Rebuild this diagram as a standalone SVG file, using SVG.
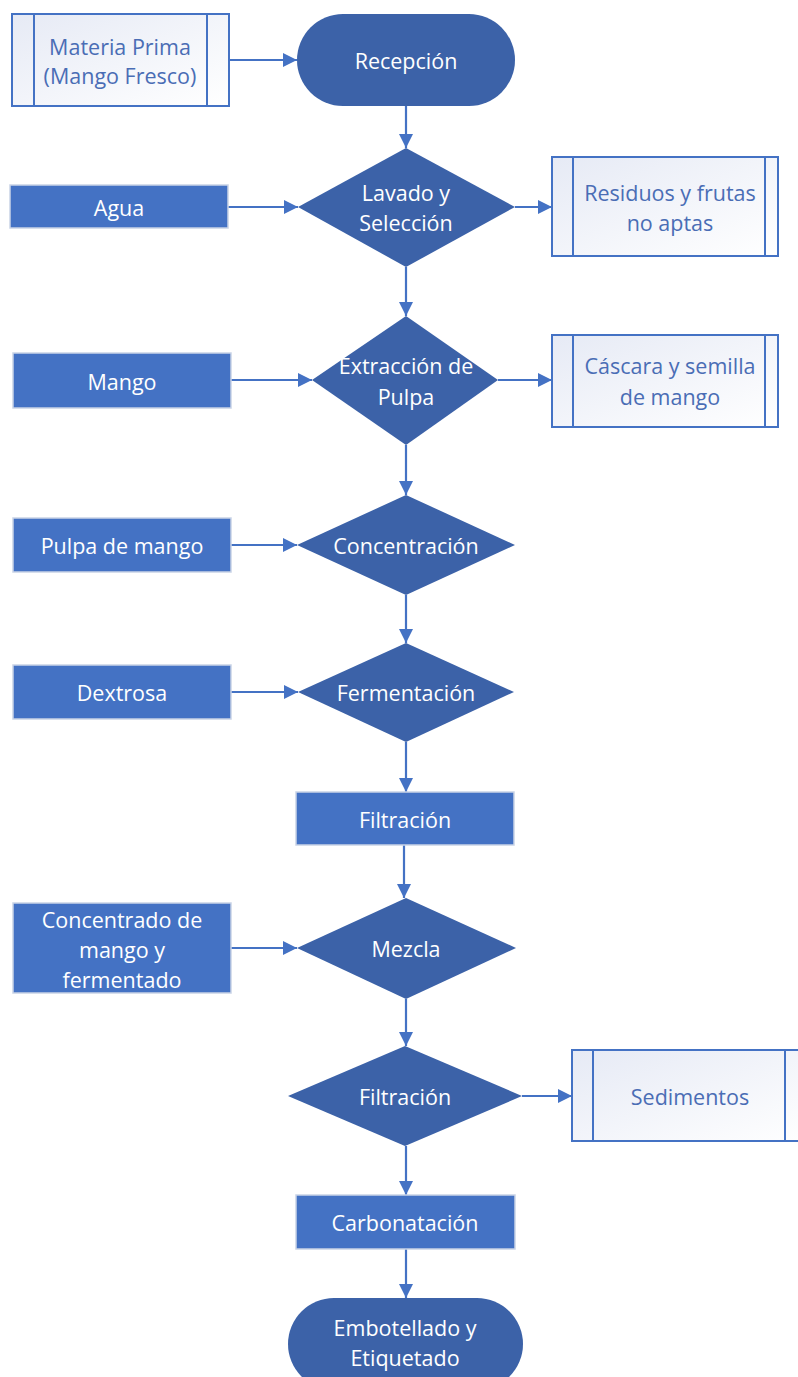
<svg xmlns="http://www.w3.org/2000/svg" width="798" height="1377" viewBox="0 0 798 1377">
<defs>
<linearGradient id="g" x1="0" y1="0" x2="1" y2="1">
<stop offset="0" stop-color="#E6EAF5"/><stop offset="1" stop-color="#FFFFFF"/>
</linearGradient>
<marker id="ah" viewBox="0 0 10 10" refX="10" refY="5" markerWidth="14" markerHeight="14" markerUnits="userSpaceOnUse" orient="auto">
<path d="M0,0 L10,5 L0,10 z" fill="#4472C4"/>
</marker>
<style>
.in{fill:#4472C4;stroke:#C9D3E6;stroke-width:1.5}
.dk{fill:#3C62A8;stroke:none}
.out{fill:url(#g);stroke:#4472C4;stroke-width:2}
.ln{stroke:#4472C4;stroke-width:2}
.c{stroke:#4472C4;stroke-width:2.2;fill:none;marker-end:url(#ah)}
text{font-family:"Open Sans","Noto Sans",sans-serif;font-size:21.5px;text-anchor:middle;dominant-baseline:central}
.w{fill:#FFFFFF}
.b{fill:#4A6DB5}
</style>
</defs>
<g id="connectors">
<line class="c" x1="229" y1="60" x2="297" y2="60"/>
<line class="c" x1="406" y1="106" x2="406" y2="148"/>
<line class="c" x1="228" y1="207" x2="298" y2="207"/>
<line class="c" x1="515" y1="207" x2="552" y2="207"/>
<line class="c" x1="406" y1="267" x2="406" y2="316"/>
<line class="c" x1="231" y1="380" x2="312" y2="380"/>
<line class="c" x1="498" y1="380" x2="552" y2="380"/>
<line class="c" x1="406" y1="445" x2="406" y2="495"/>
<line class="c" x1="231" y1="545" x2="297" y2="545"/>
<line class="c" x1="406" y1="595" x2="406" y2="643"/>
<line class="c" x1="231" y1="692" x2="298" y2="692"/>
<line class="c" x1="406" y1="742" x2="406" y2="792"/>
<line class="c" x1="404" y1="845" x2="404" y2="898"/>
<line class="c" x1="231" y1="948" x2="297" y2="948"/>
<line class="c" x1="406" y1="999" x2="406" y2="1046"/>
<line class="c" x1="522" y1="1096" x2="572" y2="1096"/>
<line class="c" x1="406" y1="1146" x2="406" y2="1195"/>
<line class="c" x1="406" y1="1249" x2="406" y2="1298"/>
</g>
<g id="materia-prima">
<rect class="out" x="12" y="14" width="217" height="92"/>
<line class="ln" x1="34" y1="14" x2="34" y2="106"/>
<line class="ln" x1="207" y1="14" x2="207" y2="106"/>
<text class="b" x="120" y="46">Materia Prima</text>
<text class="b" x="120" y="75">(Mango Fresco)</text>
</g>
<g id="recepcion">
<rect class="dk" x="297" y="14" width="218" height="92" rx="46"/>
<text class="w" x="406" y="60">Recepción</text>
</g>
<g id="agua">
<rect class="in" x="10" y="185" width="218" height="43"/>
<text class="w" x="119" y="207">Agua</text>
</g>
<g id="lavado">
<polygon class="dk" points="406,148 515,207 406,267 298,207"/>
<text class="w" x="406" y="192">Lavado y</text>
<text class="w" x="406" y="222">Selección</text>
</g>
<g id="residuos">
<rect class="out" x="552" y="157" width="226" height="99"/>
<line class="ln" x1="573" y1="157" x2="573" y2="256"/>
<line class="ln" x1="765" y1="157" x2="765" y2="256"/>
<text class="b" x="670" y="192">Residuos y frutas</text>
<text class="b" x="670" y="222">no aptas</text>
</g>
<g id="mango">
<rect class="in" x="13" y="353" width="218" height="55"/>
<text class="w" x="122" y="381">Mango</text>
</g>
<g id="extraccion">
<polygon class="dk" points="406,316 498,380 406,445 312,380"/>
<text class="w" x="406" y="365">Extracción de</text>
<text class="w" x="406" y="396">Pulpa</text>
</g>
<g id="cascara">
<rect class="out" x="552" y="335" width="226" height="92"/>
<line class="ln" x1="573" y1="335" x2="573" y2="427"/>
<line class="ln" x1="765" y1="335" x2="765" y2="427"/>
<text class="b" x="670" y="365">Cáscara y semilla</text>
<text class="b" x="670" y="396">de mango</text>
</g>
<g id="pulpa">
<rect class="in" x="13" y="518" width="218" height="54"/>
<text class="w" x="122" y="545">Pulpa de mango</text>
</g>
<g id="concentracion">
<polygon class="dk" points="406,495 515,545 406,595 297,545"/>
<text class="w" x="406" y="545">Concentración</text>
</g>
<g id="dextrosa">
<rect class="in" x="13" y="665" width="218" height="54"/>
<text class="w" x="122" y="692">Dextrosa</text>
</g>
<g id="fermentacion">
<polygon class="dk" points="406,643 514,692 406,742 298,692"/>
<text class="w" x="406" y="692">Fermentación</text>
</g>
<g id="filtracion1">
<rect class="in" x="296" y="792" width="218" height="53"/>
<text class="w" x="405" y="819">Filtración</text>
</g>
<g id="concentrado">
<rect class="in" x="13" y="903" width="218" height="90"/>
<text class="w" x="122" y="919">Concentrado de</text>
<text class="w" x="122" y="949">mango y</text>
<text class="w" x="122" y="979">fermentado</text>
</g>
<g id="mezcla">
<polygon class="dk" points="406,898 516,948 406,999 297,948"/>
<text class="w" x="406" y="948">Mezcla</text>
</g>
<g id="filtracion2">
<polygon class="dk" points="405,1046 522,1096 405,1146 288,1096"/>
<text class="w" x="405" y="1096">Filtración</text>
</g>
<g id="sedimentos">
<rect class="out" x="572" y="1050" width="240" height="91"/>
<line class="ln" x1="593" y1="1050" x2="593" y2="1141"/>
<line class="ln" x1="785" y1="1050" x2="785" y2="1141"/>
<text class="b" x="690" y="1096">Sedimentos</text>
</g>
<g id="carbonatacion">
<rect class="in" x="296" y="1195" width="219" height="54"/>
<text class="w" x="405" y="1222">Carbonatación</text>
</g>
<g id="embotellado">
<rect class="dk" x="288" y="1298" width="235" height="92" rx="46"/>
<text class="w" x="405" y="1327">Embotellado y</text>
<text class="w" x="405" y="1357">Etiquetado</text>
</g>
</svg>
